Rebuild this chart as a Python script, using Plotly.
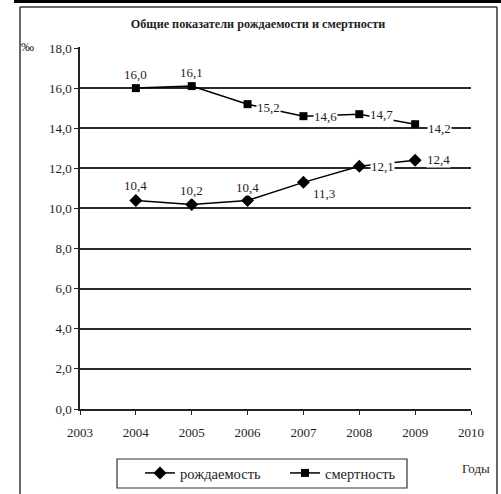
import plotly.graph_objects as go

years = [2004, 2005, 2006, 2007, 2008, 2009]
birth = [10.4, 10.2, 10.4, 11.3, 12.1, 12.4]
death = [16.0, 16.1, 15.2, 14.6, 14.7, 14.2]
birth_labels = ["10,4", "10,2", "10,4", "11,3", "12,1", "12,4"]
death_labels = ["16,0", "16,1", "15,2", "14,6", "14,7", "14,2"]
x_ticks = [2003, 2004, 2005, 2006, 2007, 2008, 2009, 2010]
y_ticks = [0, 2, 4, 6, 8, 10, 12, 14, 16, 18]

# label offsets (pixels)
birth_shift = [(0, 15), (0, 14), (0, 13), (21, -11), (23, 0), (23, 1)]
death_shift = [(0, 14), (0, 14), (21, -3), (22, 0), (22, 0), (24, -4)]

SERIF = "Liberation Serif, Times New Roman, serif"
INK = "#1e1e1e"

# pixel geometry helpers for paper coordinates
L, R, T, B = 80, 471, 47, 409
def px(x):
    return (x - L) / (R - L)
def py(y):
    return (B - y) / (B - T)

fig = go.Figure()
fig.add_trace(go.Scatter(
    x=years, y=birth, mode="lines+markers", name="рождаемость",
    line=dict(color="black", width=1.5),
    marker=dict(symbol="diamond", size=10, color="black"),
))
fig.add_trace(go.Scatter(
    x=years, y=death, mode="lines+markers", name="смертность",
    line=dict(color="black", width=1.5),
    marker=dict(symbol="square", size=8, color="black"),
))

annotations = []
for xv, yv, t, (dx, dy) in zip(years, birth, birth_labels, birth_shift):
    annotations.append(dict(x=xv, y=yv, xref="x", yref="y", text=t, showarrow=False,
                            xanchor="center", yanchor="middle",
                            xshift=dx, yshift=dy, bgcolor="white", borderpad=0,
                            font=dict(family=SERIF, size=13, color=INK)))
for xv, yv, t, (dx, dy) in zip(years, death, death_labels, death_shift):
    annotations.append(dict(x=xv, y=yv, xref="x", yref="y", text=t, showarrow=False,
                            xanchor="center", yanchor="middle",
                            xshift=dx, yshift=dy, bgcolor="white", borderpad=0,
                            font=dict(family=SERIF, size=13, color=INK)))

annotations.append(dict(x=px(27.5), y=py(46), xref="paper", yref="paper", text="‰",
                        xanchor="center", yanchor="middle",
                        showarrow=False, font=dict(family=SERIF, size=13, color=INK)))
annotations.append(dict(x=px(476), y=py(468), xref="paper", yref="paper", text="Годы",
                        xanchor="center", yanchor="middle",
                        showarrow=False, font=dict(family=SERIF, size=13, color=INK)))

shapes = [
    # outer frame
    dict(type="line", xref="paper", yref="paper", x0=px(20), x1=px(20), y0=py(7), y1=py(500),
         line=dict(color="#333", width=1.5)),
    dict(type="line", xref="paper", yref="paper", x0=px(497), x1=px(497), y0=py(7), y1=py(500),
         line=dict(color="#333", width=1.5)),
    dict(type="line", xref="paper", yref="paper", x0=px(20), x1=px(497), y0=py(7), y1=py(7),
         line=dict(color="#333", width=1.5)),
    # thick bar at the very top
    dict(type="rect", xref="paper", yref="paper", x0=px(14), x1=px(505), y0=py(-5), y1=py(3),
         fillcolor="black", line=dict(width=0)),
    # legend box
    dict(type="rect", xref="paper", yref="paper", x0=px(117), x1=px(407), y0=py(459), y1=py(488),
         line=dict(color="#333", width=1.2), fillcolor="rgba(0,0,0,0)"),
]

fig.update_layout(
    width=501, height=494,
    margin=dict(l=L, r=501 - R, t=T, b=494 - B, autoexpand=False),
    paper_bgcolor="white", plot_bgcolor="white",
    separators=", ",
    title=dict(text="<b>Общие показатели рождаемости и смертности</b>",
               x=258 / 501, xref="container", xanchor="center",
               y=1 - 24 / 494, yref="container", yanchor="middle",
               font=dict(family=SERIF, size=12.2, color=INK)),
    font=dict(family=SERIF, size=13, color=INK),
    showlegend=True,
    legend=dict(orientation="h", x=px(140), y=py(473), xanchor="left", yanchor="middle",
                bgcolor="rgba(0,0,0,0)", borderwidth=0, entrywidth=100, itemwidth=30,
                font=dict(family=SERIF, size=14.5, color=INK)),
    annotations=annotations,
    shapes=shapes,
)
fig.update_xaxes(range=[2003, 2010], tickvals=x_ticks, ticktext=[str(v) for v in x_ticks],
                 showgrid=False, zeroline=False, showline=True, linecolor="#222", linewidth=1.5,
                 ticks="outside", ticklen=4, tickcolor="#222", ticklabelstandoff=7,
                 tickfont=dict(family=SERIF, size=13, color=INK))
fig.update_yaxes(range=[0, 18.05], tickvals=y_ticks, tickformat=".1f",
                 showgrid=True, gridcolor="#2a2a2a", gridwidth=1.5, zeroline=False,
                 showline=True, linecolor="#222", linewidth=1.5,
                 ticks="outside", ticklen=4, tickcolor="#222",
                 tickfont=dict(family=SERIF, size=13, color=INK))

fig.write_html("out.html", config={"displayModeBar": False},
               post_script="document.body.style.margin='0';")
